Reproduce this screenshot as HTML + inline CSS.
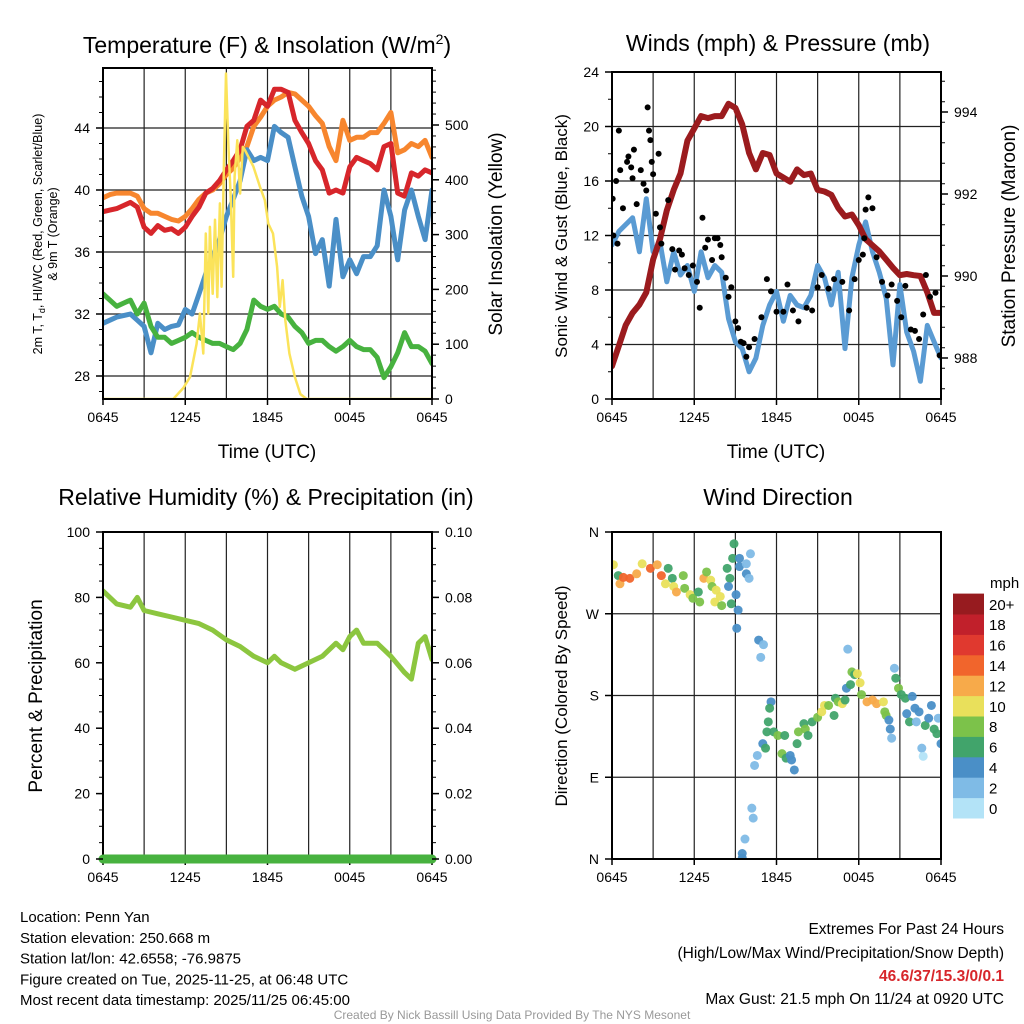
<!DOCTYPE html>
<html><head><meta charset="utf-8">
<style>
html,body{margin:0;padding:0;background:#fff;}
svg{display:block;font-family:"Liberation Sans",Arial,sans-serif;}
</style></head>
<body>
<svg id="fig" width="1024" height="1024" viewBox="0 0 1024 1024"></svg>
<script>
// ---------- DATA ----------
const hours = [];for(let i=0;i<=48;i++)hours.push(i/2);
const tempRed=[38.6,38.7,38.8,39.0,39.2,38.9,37.6,37.2,37.7,37.4,37.5,37.2,37.6,38.3,38.9,39.8,40.1,40.6,41.3,41.9,42.6,44.1,44.5,45.8,45.4,46.5,46.5,46.3,44.5,43.7,43.0,41.9,41.3,39.8,40.0,39.8,41.5,42.1,41.9,41.7,41.3,42.8,43.0,39.8,39.6,41.1,40.9,41.3,41.1];
const tempOrange=[39.5,39.7,39.8,39.8,39.8,39.6,38.8,38.5,38.5,38.3,38.1,38.0,38.3,38.8,39.4,39.8,40.0,40.4,41.0,41.4,42.1,42.8,44.1,44.7,45.4,45.8,46.0,46.3,46.2,45.8,45.4,44.8,44.3,42.8,41.9,44.5,43.2,43.4,43.4,43.7,43.7,44.3,45.0,42.4,42.6,43.0,42.8,43.2,42.1];
const tempBlue=[31.4,31.6,31.8,31.9,32.0,31.6,31.2,29.5,31.4,31.0,31.2,31.3,32.3,32.0,33.3,34.6,35.7,36.8,38.3,39.4,40.6,42.6,41.9,42.1,41.9,44.1,43.7,43.4,41.5,39.6,38.3,35.9,36.8,33.8,38.1,34.4,35.5,34.6,35.7,35.7,36.4,40.0,38.3,35.5,38.7,40.0,38.3,36.8,40.0];
const tempGreen=[33.3,32.9,32.5,32.7,32.9,32.0,32.7,31.2,30.5,30.5,30.1,30.3,30.5,30.8,30.5,30.3,30.1,30.1,29.9,29.7,30.1,31.0,32.9,32.5,32.3,32.5,32.0,31.8,31.2,30.8,30.1,30.3,30.3,29.9,29.6,29.9,30.3,29.9,29.7,29.7,29.2,27.9,28.6,29.5,30.8,29.9,29.9,29.6,28.8];
const solarHours=[0,5.13,5.86,6.35,6.83,7.07,7.32,7.5,7.68,7.8,8.0,8.17,8.34,8.53,8.65,8.83,8.97,9.14,9.31,9.5,9.6,9.8,10.0,10.2,10.36,10.97,11.45,11.8,12.06,12.4,12.7,12.9,13.1,13.3,13.6,14.0,14.4,14.85,24];
const solarValues=[0,0,20,40,101,156,83,302,156,314,192,327,186,357,205,436,594,466,375,223,406,472,375,460,454,424,387,363,320,302,241,168,217,144,83,40,9,0,0];
const windSpeed=[11.3,12.3,12.8,13.3,10.8,14.7,10.8,11.5,8.6,10.8,9.1,9.8,7.9,10.8,8.9,9.8,9.3,5.9,4.2,3.7,2.0,3.0,5.4,6.9,7.9,5.7,7.6,6.9,6.7,7.6,9.8,8.9,6.9,9.3,3.7,8.9,11.3,13.0,10.8,9.3,7.4,2.5,8.4,4.9,3.5,1.3,5.4,4.2,3.0];
const pressure=[987.8,988.3,988.8,989.1,989.3,989.6,990.4,990.9,991.6,992.1,992.5,993.3,993.6,993.9,993.85,993.9,993.9,994.2,994.1,993.7,993.0,992.6,993.0,992.95,992.5,992.4,992.3,992.6,992.46,992.5,992.1,992.06,991.98,991.66,991.45,991.5,991.24,990.9,990.75,990.6,990.4,990.2,990.02,990.05,990.02,990.0,989.6,989.1,989.1];
const gustHours=[0.05,0.1,0.3,0.5,0.6,0.4,0.8,1.1,1.2,1.4,1.6,1.5,1.8,2.1,2.3,2.5,2.6,2.7,2.8,2.9,3.0,3.2,3.4,3.5,3.6,4.1,4.4,4.6,4.9,5.1,5.3,5.6,5.9,6.2,6.4,6.6,6.8,7.0,7.3,7.5,7.7,7.9,8.0,8.3,8.5,8.7,9.0,9.2,9.4,9.6,9.8,10.0,10.4,10.9,11.3,11.6,12.0,12.5,12.8,13.2,13.6,14.2,14.6,15.0,15.3,15.8,16.2,16.8,17.3,17.7,18.0,18.3,18.4,18.5,18.7,19.0,19.3,19.7,20.1,20.4,20.8,21.1,21.4,21.8,22.1,22.4,22.7,22.9,23.2,23.6,23.9];
const gustValues=[14.7,12,16,19.7,16.8,11.4,14,17.4,17.8,17,18.3,16.2,14.3,16.8,15.8,15.3,21.4,19.7,19,17.4,16.5,13.6,18,12.6,11.4,14.6,11,9.5,10.9,10.6,9.6,9.1,9.8,8.6,6.7,13.3,11.1,11.7,10.2,11.8,11.8,11.3,10.4,8.9,7.5,8.2,5.7,5.2,4.2,4.1,3.1,3.8,4.4,6,8.8,7.9,6.4,6.4,8.4,6.5,5.7,6.7,6.5,8.2,9.1,8.1,8.8,8.6,6.5,8.8,10.2,10.6,11.8,13.9,14.8,14,10.4,8.6,7.6,8.4,7.2,6,8.3,5.1,5,4.4,6.2,9.1,7.5,7.8,3.2];
const rhHours=[0,1,2,2.5,3,4,5,6,7,8,9,10,11,12,12.5,13,14,15,16,17,17.5,18,18.5,19,20,21,22,22.5,23,23.5,24];
const rhValues=[82,78,77,80,76,75,74,73,72,70,67,65,62,60,62,60,58,60,62,66,64,68,70,66,66,62,57,55,66,68,61];
const dirHours=[0.1,0.46,0.58,0.83,1.3,1.8,2.2,2.8,3.3,3.6,4.1,4.4,3.9,4.5,4.7,5.2,5.3,5.7,5.9,6.4,6.3,6.7,6.9,7.2,7.3,7.6,7.5,8.0,7.9,8.4,8.6,8.5,8.7,8.9,8.8,9.05,9.2,9.1,9.3,9.3,9.8,10.1,9.8,10.0,10.7,11.05,10.85,9.5,9.5,9.7,10.3,10.2,10.4,10.6,11.0,11.2,11.4,11.6,11.5,11.3,11.8,12.1,12.4,12.6,12.7,13.0,13.1,13.3,13.5,13.6,14.0,14.1,14.3,14.6,15.0,15.3,15.5,15.8,16.2,16.3,16.5,16.8,17.0,17.1,17.4,17.5,17.7,17.9,17.2,18.1,18.2,18.6,19.0,19.3,19.8,19.9,20.0,20.2,20.3,20.4,20.6,20.7,20.9,21.1,21.4,21.5,21.7,21.9,22.1,22.4,22.2,22.6,22.7,22.85,23.1,23.3,23.5,23.8,24.0,23.7];
const dirValues=[324,312,303,310,309,314,325,320,324,312,320,309,303,300,294,312,298,291,287,283,294,309,316,307,300,296,283,279,289,320,309,300,281,347,331,291,274,254,331,322,325,336,314,309,241,236,222,6,1,22,45,56,103,114,127,122,151,173,166,140,140,136,116,136,111,114,109,98,127,140,149,143,136,151,156,162,169,169,158,177,173,171,175,188,192,206,203,204,231,194,181,173,175,171,173,162,158,153,143,133,210,199,188,181,177,160,151,179,166,162,151,122,113,147,155,169,143,155,127,138];
const dirSpeeds=[11,7,13,15,15,13,11,15,13,15,7,7,11,11,13,9,9,11,9,9,7,13,9,11,9,11,11,9,11,7,7,5,7,7,7,5,5,5,5,5,3,3,5,3,5,3,3,5,5,3,3,3,3,3,5,7,7,5,7,7,7,9,9,7,7,5,5,5,7,9,7,9,7,7,9,11,11,9,7,7,9,11,7,5,7,9,7,11,3,11,9,13,13,13,11,9,9,5,5,3,3,7,9,7,7,5,7,5,5,5,3,3,1,7,5,5,7,3,5,7];
const speedBins=["0","2","4","6","8","10","12","14","16","18","20+"];
const speedColors=["#b3e3f7","#7fbbe6","#4a8fc7","#41a46b","#7cc24a","#e9e05b","#f7aa4a","#f1652c","#e0392f","#c1202b","#971b1f"];

// ---------- HELPERS ----------
const NS="http://www.w3.org/2000/svg";
const svg=document.getElementById('fig');
function mk(tag,attrs,parent){const e=document.createElementNS(NS,tag);for(const k in attrs)e.setAttribute(k,attrs[k]);(parent||svg).appendChild(e);return e;}
function txt(x,y,s,size,anchor,extra){const t=mk('text',Object.assign({x:x,y:y,'font-size':size,'text-anchor':anchor||'middle',fill:'#000'},extra||{}));t.textContent=s;return t;}
function lin(d0,d1,r0,r1){return v=>r0+(v-d0)*(r1-r0)/(d1-d0);}

const TL={x0:103,x1:432,y0:68,y1:399}, TR={x0:612,x1:941,y0:72,y1:399}, BL={x0:103,x1:432,y0:532,y1:859}, BR={x0:612,x1:941,y0:532,y1:859};
const timeLabels=["0645","1245","1845","0045","0645"];

function gridAndFrame(P,hLines,name){
  const xs=lin(0,24,P.x0,P.x1);
  for(let h=3;h<24;h+=3){const l=mk('line',{x1:xs(h),x2:xs(h),y1:P.y0,y2:P.y1,stroke:'#222','stroke-width':1.2});
    
    }
  hLines.forEach(y=>{const l=mk('line',{x1:P.x0,x2:P.x1,y1:y,y2:y,stroke:'#222','stroke-width':1.2});
    
    });
  for(let i=0;i<5;i++){const t=txt(xs(i*6),P.y1+23,timeLabels[i],14);
    
    
    const tk=mk('line',{x1:xs(i*6),x2:xs(i*6),y1:P.y1,y2:P.y1+6,stroke:'#000','stroke-width':1.5});
    
    }
}
function frame(P,name){const r=mk('rect',{x:P.x0,y:P.y0,width:P.x1-P.x0,height:P.y1-P.y0,fill:'none',stroke:'#000','stroke-width':2});
  
  }
function path(xsArr,ysArr,xs,ys,color,w,name){let d='';for(let i=0;i<xsArr.length;i++)d+=(i?'L':'M')+xs(xsArr[i]).toFixed(1)+','+ys(ysArr[i]).toFixed(1);
  const p=mk('path',{d:d,fill:'none',stroke:color,'stroke-width':w,'stroke-linejoin':'round','stroke-linecap':'round'});
  
  return p;}
function yTicks(P,vals,labels,ys,side,name){vals.forEach((v,i)=>{const y=ys(v);
  const x=side==='left'?P.x0:P.x1;const dx=side==='left'?-7:7;
  const tk=mk('line',{x1:x,x2:x+dx,y1:y,y2:y,stroke:'#000','stroke-width':1.5});
  
  
  const t=txt(side==='left'?P.x0-13:P.x1+13,y+5,labels[i],14,side==='left'?'end':'start');
  
  });}
function minorTicks(P,y0v,y1v,step,ys,side){for(let v=y0v;v<=y1v+1e-9;v+=step){const y=ys(v);const x=side==='left'?P.x0:P.x1;
  const m=mk('line',{x1:x,x2:x+(side==='left'?-4:4),y1:y,y2:y,stroke:'#000','stroke-width':1});
  
  }}
function clip(P,id){const cp=mk('clipPath',{id:id});mk('rect',{x:P.x0,y:P.y0,width:P.x1-P.x0,height:P.y1-P.y0},cp);}

// ---------- PANEL 1 ----------
{const P=TL;const xs=lin(0,24,P.x0,P.x1);const yT=lin(40,44,190,128);const yS=lin(0,500,399,125);
clip(P,'c1');
gridAndFrame(P,[44,40,36,32,28].map(yT),'temp');
const g=mk('g',{'clip-path':'url(#c1)'});
[[tempOrange,'#f7862e','orange-9m-temp'],[tempRed,'#d7262b','red-2m-temp'],[tempBlue,'#4a8fc7','blue-heat-index-wind-chill'],[tempGreen,'#47b23f','green-dewpoint']].forEach(s=>{g.appendChild(path(hours,s[0],xs,yT,s[1],5,s[2]));});
g.appendChild(path(solarHours,solarValues,xs,yS,'#fbe35a',2.5,'yellow-solar-insolation'));
frame(P,'temp');
yTicks(P,[44,40,36,32,28],["44","40","36","32","28"],yT,'left','temp-y');
minorTicks(P,27,47,1,yT,'left');
yTicks(P,[0,100,200,300,400,500],["0","100","200","300","400","500"],yS,'right','solar-y');
minorTicks(P,0,600,20,yS,'right');
let t=txt(267,53,'',23);t.innerHTML='Temperature (F) &amp; Insolation (W/m<tspan dy="-9" font-size="14">2</tspan><tspan dy="9">)</tspan>';

t=txt(267,458,'Time (UTC)',19);
t=mk('text',{x:0,y:0,'font-size':12.5,'text-anchor':'middle',transform:'translate(42,234) rotate(-90)'});
t.innerHTML='2m T, T<tspan dy="3" font-size="9">d</tspan><tspan dy="-3">, HI/WC (Red, Green, Scarlet/Blue)</tspan>';

t=mk('text',{x:0,y:0,'font-size':12.5,'text-anchor':'middle',transform:'translate(57,234) rotate(-90)'});t.textContent='& 9m T (Orange)';

t=mk('text',{x:0,y:0,'font-size':19,'text-anchor':'middle',transform:'translate(502,234) rotate(-90)'});t.textContent='Solar Insolation (Yellow)';

}

// ---------- PANEL 2 ----------
{const P=TR;const xs=lin(0,24,P.x0,P.x1);const yW=lin(0,24,399,72);const yP=lin(988,994,358,112);
clip(P,'c2');
gridAndFrame(P,[4,8,12,16,20].map(yW),'wind');
const g=mk('g',{'clip-path':'url(#c2)'});
g.appendChild(path(hours,windSpeed,xs,yW,'#5a9bd3',5,'blue-sonic-wind'));
g.appendChild(path(hours,pressure,xs,yP,'#9b1b1e',6,'maroon-station-pressure'));
for(let i=0;i<gustHours.length;i++){const c=mk('circle',{cx:xs(gustHours[i]),cy:yW(gustValues[i]),r:3,fill:'#000'},g);
  
  }
frame(P,'wind');
yTicks(P,[0,4,8,12,16,20,24],["0","4","8","12","16","20","24"],yW,'left','wind-y');
minorTicks(P,0,24,2,yW,'left');
yTicks(P,[988,990,992,994],["988","990","992","994"],yP,'right','pressure-y');
minorTicks(P,987.25,994.75,0.5,yP,'right');
let t=txt(778,51,'Winds (mph) & Pressure (mb)',23);
t=txt(776,458,'Time (UTC)',19);
t=mk('text',{x:0,y:0,'font-size':17,'text-anchor':'middle',transform:'translate(567,236) rotate(-90)'});t.textContent='Sonic Wind & Gust (Blue, Black)';

t=mk('text',{x:0,y:0,'font-size':19,'text-anchor':'middle',transform:'translate(1015,236) rotate(-90)'});t.textContent='Station Pressure (Maroon)';

}

// ---------- PANEL 3 ----------
{const P=BL;const xs=lin(0,24,P.x0,P.x1);const yR=lin(0,100,859,532);const yPr=lin(0,0.1,859,532);
clip(P,'c3');
gridAndFrame(P,[],'rh');
const g=mk('g',{'clip-path':'url(#c3)'});
g.appendChild(path(rhHours,rhValues,xs,yR,'#8cc63f',5,'rh-line'));
frame(P,'rh');
path([0,24],[0,0],xs,yPr,'#47b23f',9,'precip-line');
yTicks(P,[0,20,40,60,80,100],["0","20","40","60","80","100"],yR,'left','rh-y');
minorTicks(P,0,100,5,yR,'left');
yTicks(P,[0,0.02,0.04,0.06,0.08,0.1],["0.00","0.02","0.04","0.06","0.08","0.10"],yPr,'right','precip-y');
minorTicks(P,0,0.1,0.005,yPr,'right');
let t=txt(266,505,'Relative Humidity (%) & Precipitation (in)',23);
t=mk('text',{x:0,y:0,'font-size':19,'text-anchor':'middle',transform:'translate(42,696) rotate(-90)'});t.textContent='Percent & Precipitation';

}

// ---------- PANEL 4 ----------
{const P=BR;const xs=lin(0,24,P.x0,P.x1);const yD=lin(0,360,859,532);
clip(P,'c4');
gridAndFrame(P,[90,180,270].map(yD),'dir');
const g=mk('g',{'clip-path':'url(#c4)'});
for(let i=0;i<dirHours.length;i++){const bi=Math.min(10,Math.floor(dirSpeeds[i]/2));
  const c=mk('circle',{cx:xs(dirHours[i]),cy:yD(dirValues[i]),r:4.5,fill:speedColors[bi],'fill-opacity':0.95},g);
  
  }
frame(P,'dir');
yTicks(P,[0,90,180,270,360],["N","E","S","W","N"],yD,'left','dir-y');
let t=txt(778,505,'Wind Direction',23);
t=mk('text',{x:0,y:0,'font-size':17,'text-anchor':'middle',transform:'translate(567,696) rotate(-90)'});t.textContent='Direction (Colored By Speed)';

const h=20.4;
for(let i=0;i<11;i++){const y=818-(i+1)*h;
  const r=mk('rect',{x:953,y:y,width:31,height:h+0.5,fill:speedColors[i]});
  
  
  const tl=txt(989,y+h/2+6,speedBins[i],15,'start');
  
  }
t=txt(990,588,'mph',15,'start');
}

// ---------- FOOTER ----------
const leftLines=["Location: Penn Yan","Station elevation: 250.668 m","Station lat/lon: 42.6558; -76.9875","Figure created on Tue, 2025-11-25, at 06:48 UTC","Most recent data timestamp: 2025/11/25 06:45:00"];
leftLines.forEach((s,i)=>{const t=txt(20,922+i*20.8,s,15,'start');
  
  });
let ft=txt(1004,934,'Extremes For Past 24 Hours',15.5,'end');
ft=txt(1004,958,'(High/Low/Max Wind/Precipitation/Snow Depth)',15.5,'end');
ft=txt(1004,981,'46.6/37/15.3/0/0.1',15.5,'end',{fill:'#d7262b','font-weight':'bold'});
ft=txt(1004,1004,'Max Gust: 21.5 mph On 11/24 at 0920 UTC',15.5,'end');
ft=txt(512,1019,'Created By Nick Bassill Using Data Provided By The NYS Mesonet',12,'middle',{fill:'#999'});
</script>
</body></html>
